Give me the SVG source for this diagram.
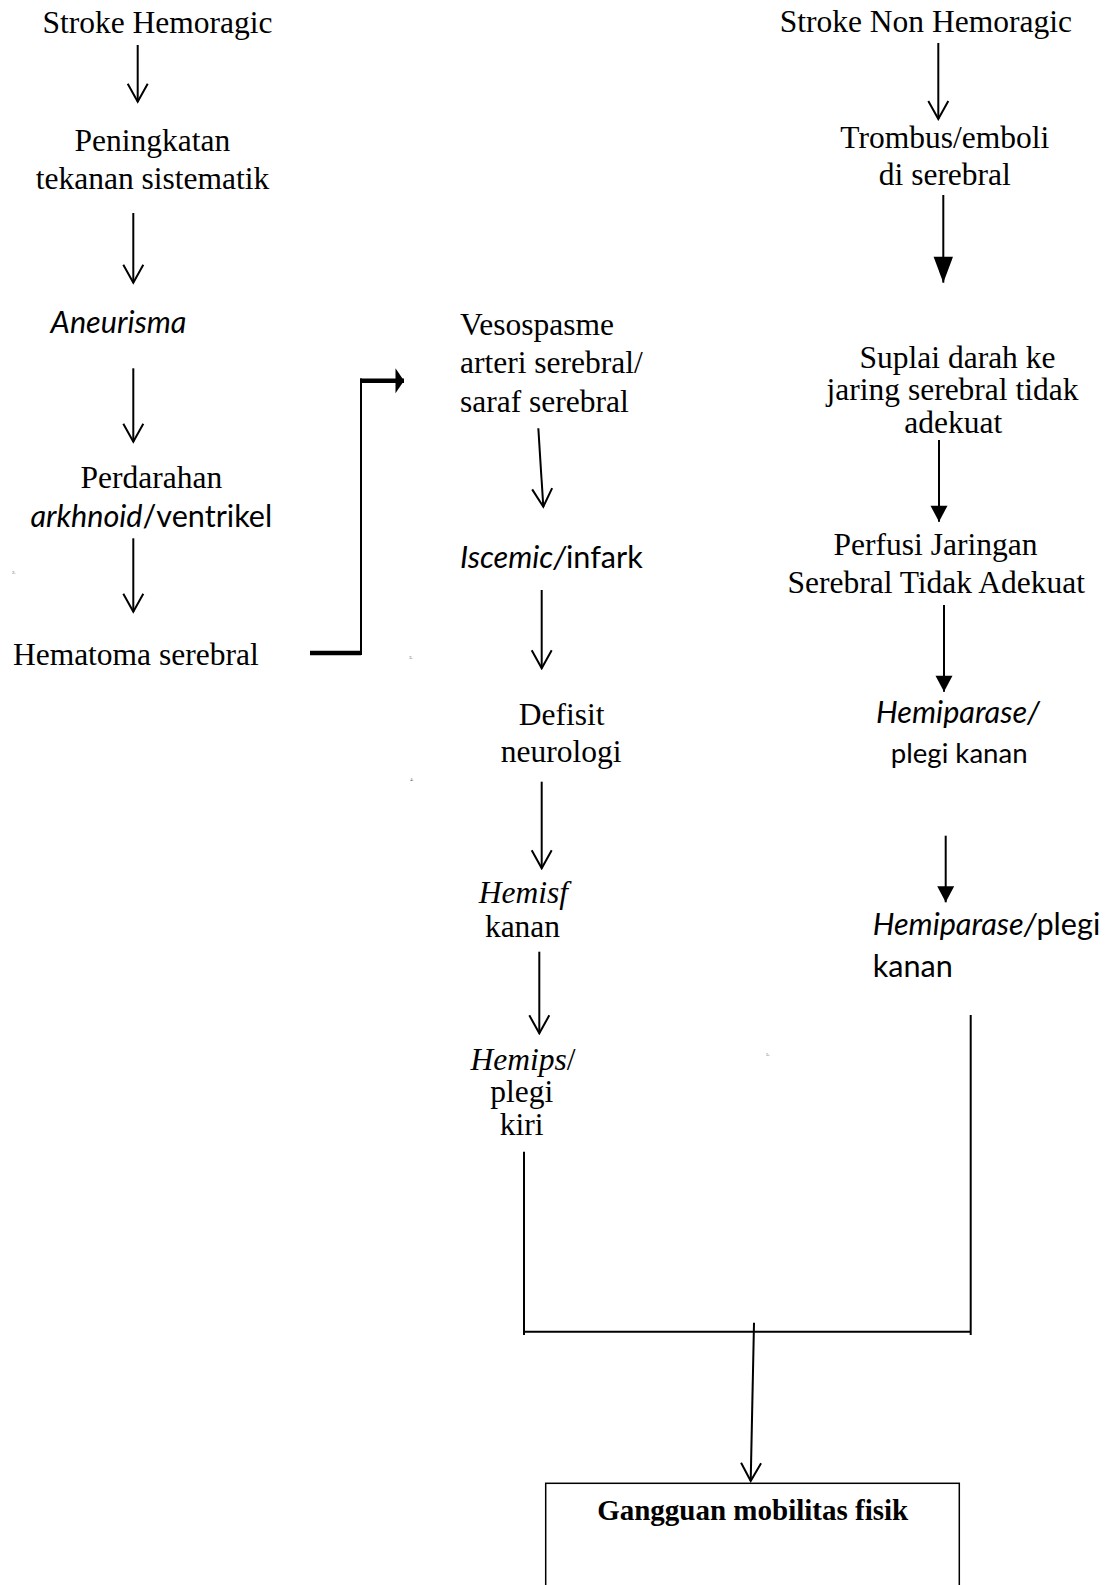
<svg xmlns="http://www.w3.org/2000/svg" width="1107" height="1585" viewBox="0 0 1107 1585">
<style>
.serif{font-family:"Liberation Serif","Times New Roman",serif;font-size:31.5px;fill:#000}
.sans{font-family:Lato,"Liberation Sans",sans-serif;font-size:30.6px;fill:#000}
.it{font-style:italic}
.bold{font-weight:bold}
.mid{text-anchor:middle}
.tiny{font-family:"Liberation Serif",serif;font-size:5px;fill:#555}
.ln{stroke:#000;stroke-width:2;fill:none}
.open{marker-end:url(#openHead)}
.fill{marker-end:url(#fillHead)}
.fillL{marker-end:url(#fillHeadL)}
.thick{stroke:#000;stroke-width:4.5;fill:none}
</style>
<defs>
<marker id="openHead" markerUnits="userSpaceOnUse" viewBox="-21 -12 23 24" markerWidth="23" markerHeight="24" refX="0" refY="0" orient="auto">
<path d="M-18,-10 L0,0 L-18,10" fill="none" stroke="#000" stroke-width="2"/>
</marker>
<marker id="fillHead" markerUnits="userSpaceOnUse" viewBox="-18 -10 20 20" markerWidth="20" markerHeight="20" refX="0" refY="0" orient="auto">
<path d="M-16,-8.5 L0,0 L-16,8.5 Z" fill="#000"/>
</marker>
<marker id="fillHeadL" markerUnits="userSpaceOnUse" viewBox="-28 -12 30 24" markerWidth="30" markerHeight="24" refX="0" refY="0" orient="auto">
<path d="M-26,-9.7 L0,0 L-26,9.7 Z" fill="#000"/>
</marker>
<marker id="rightHead" markerUnits="userSpaceOnUse" viewBox="-10 -14 12 28" markerWidth="12" markerHeight="28" refX="0" refY="0" orient="auto">
<path d="M-8.5,-12.5 L0,0 L-8.5,12.5 Z" fill="#000"/>
</marker>
</defs>

<g id="connectors">
<line class="ln open" x1="137.7" y1="45" x2="137.7" y2="101.7"/>
<line class="ln open" x1="133.3" y1="213" x2="133.3" y2="282.7"/>
<line class="ln open" x1="133.3" y1="368.3" x2="133.3" y2="441.7"/>
<line class="ln open" x1="133.3" y1="538.3" x2="133.3" y2="611.7"/>
<g id="hematoma-link">
<line class="thick" x1="310" y1="653" x2="361" y2="653"/>
<line class="ln" x1="361" y1="655" x2="361" y2="378.5"/>
<line class="thick" x1="360" y1="380.8" x2="404" y2="380.8" marker-end="url(#rightHead)"/>
</g>
<line class="ln open" x1="538.3" y1="428.3" x2="543.3" y2="506.7"/>
<line class="ln open" x1="541.7" y1="590" x2="541.7" y2="668.3"/>
<line class="ln open" x1="541.7" y1="781.7" x2="541.7" y2="868.3"/>
<line class="ln open" x1="539.3" y1="951.7" x2="539.3" y2="1033.3"/>
<line class="ln open" x1="938.3" y1="43" x2="938.3" y2="119"/>
<line class="ln fillL" x1="943.3" y1="195" x2="943.3" y2="282.7"/>
<line class="ln fill" x1="939" y1="440" x2="939" y2="521.7"/>
<line class="ln fill" x1="944" y1="605" x2="944" y2="691.7"/>
<line class="ln fill" x1="945.7" y1="835.7" x2="945.7" y2="902.3"/>
<line class="ln" x1="524" y1="1151.7" x2="524" y2="1335"/>
<line class="ln" x1="970.7" y1="1015" x2="970.7" y2="1335"/>
<line class="ln" x1="524" y1="1331.7" x2="970.7" y2="1331.7"/>
<line class="ln open" x1="754" y1="1322.7" x2="750.7" y2="1481"/>
</g>

<g id="n-stroke-hemoragic"><text class="serif mid" x="157.5" y="33">Stroke Hemoragic</text></g>
<g id="n-peningkatan"><text class="serif mid" x="152.4" y="150.7">Peningkatan</text><text class="serif mid" x="152.5" y="189.3">tekanan sistematik</text></g>
<g id="n-aneurisma"><text class="sans it mid" x="118.5" y="333">Aneurisma</text></g>
<g id="n-perdarahan"><text class="serif mid" x="151.3" y="488.3">Perdarahan</text><text class="sans mid" x="151.3" y="526.7"><tspan class="it">arkhnoid</tspan>/ventrikel</text></g>
<g id="n-hematoma"><text class="serif mid" x="135.8" y="665">Hematoma serebral</text></g>

<g id="n-vesospasme"><text class="serif" x="460" y="335">Vesospasme</text><text class="serif" x="460" y="373.3">arteri serebral/</text><text class="serif" x="460" y="411.7">saraf serebral</text></g>
<g id="n-iscemic"><text class="sans" x="460" y="568.3"><tspan class="it">Iscemic/</tspan>infark</text></g>
<g id="n-defisit"><text class="serif mid" x="561.7" y="725">Defisit</text><text class="serif mid" x="561.2" y="761.7">neurologi</text></g>
<g id="n-hemisf"><text class="serif it mid" x="523.3" y="903.3">Hemisf</text><text class="serif mid" x="522.5" y="936.7">kanan</text></g>
<g id="n-hemips"><text class="serif mid" x="523" y="1070"><tspan class="it">Hemips</tspan>/</text><text class="serif mid" x="521.7" y="1101.7">plegi</text><text class="serif mid" x="521.7" y="1135">kiri</text></g>

<g id="n-stroke-non"><text class="serif mid" x="925.8" y="31.7">Stroke Non Hemoragic</text></g>
<g id="n-trombus"><text class="serif mid" x="944.8" y="148.3">Trombus/emboli</text><text class="serif mid" x="944.8" y="185">di serebral</text></g>
<g id="n-suplai"><text class="serif mid" x="957.5" y="368.3">Suplai darah ke</text><text class="serif mid" x="952.5" y="400">jaring serebral tidak</text><text class="serif mid" x="953.3" y="433.3">adekuat</text></g>
<g id="n-perfusi"><text class="serif mid" x="935.5" y="555">Perfusi Jaringan</text><text class="serif mid" x="936.2" y="593.3">Serebral Tidak Adekuat</text></g>
<g id="n-hemiparase1"><text class="sans it mid" x="958" y="722.5">Hemiparase/</text><text class="sans mid" x="959.2" y="763" style="font-size:27.6px">plegi kanan</text></g>
<g id="n-hemiparase2"><text class="sans" x="872.7" y="935"><tspan class="it">Hemiparase/</tspan>plegi</text><text class="sans" x="872.7" y="976.7">kanan</text></g>

<g id="n-gangguan">
<rect x="545.7" y="1483.3" width="413.6" height="130" fill="none" stroke="#000" stroke-width="1.5"/>
<text class="serif bold mid" x="752.7" y="1520" style="font-size:29px">Gangguan mobilitas fisik</text>
</g>

<g id="page-marks">
<text class="tiny" x="12" y="574">2.</text>
<text class="tiny" x="409" y="659">3.</text>
<text class="tiny" x="410" y="781">4.</text>
<text class="tiny" x="766" y="1056">5.</text>
</g>
</svg>
